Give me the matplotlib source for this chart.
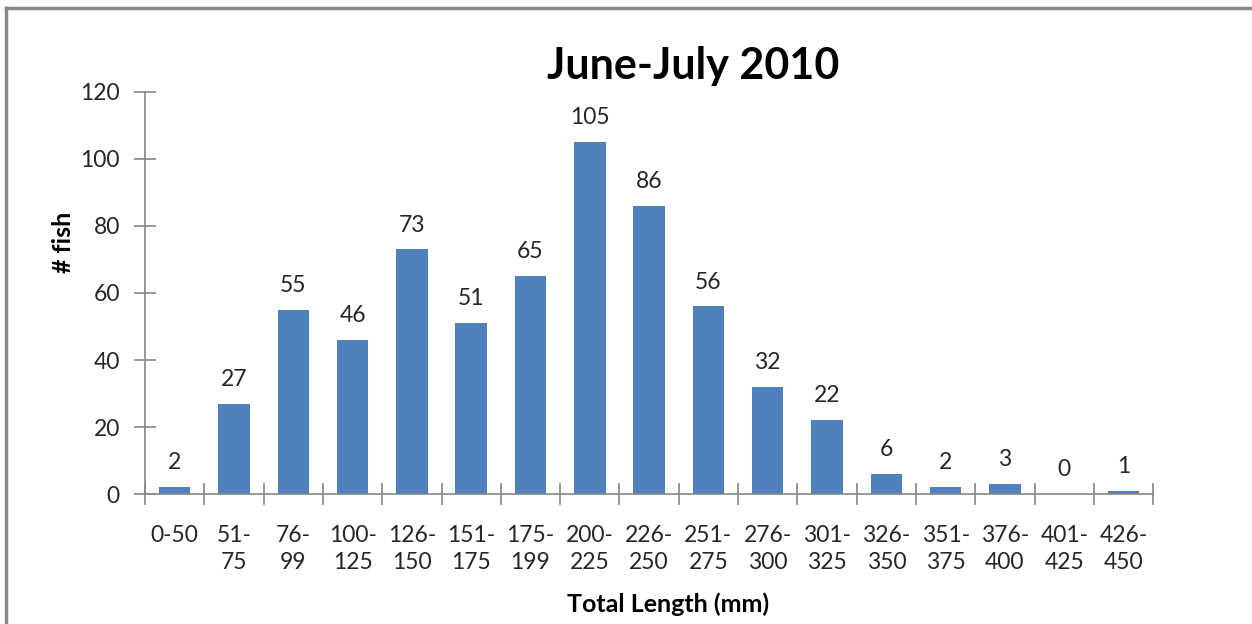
import matplotlib.pyplot as plt
from matplotlib.lines import Line2D

# length-frequency counts, June-July 2010
length_bins = ["0-50", "51-\n75", "76-\n99", "100-\n125", "126-\n150", "151-\n175",
               "175-\n199", "200-\n225", "226-\n250", "251-\n275", "276-\n300",
               "301-\n325", "326-\n350", "351-\n375", "376-\n400", "401-\n425",
               "426-\n450"]
fish_counts = [2, 27, 55, 46, 73, 51, 65, 105, 86, 56, 32, 22, 6, 2, 3, 0, 1]

plt.rcParams['font.family'] = ['Lato', 'DejaVu Sans']
axis_grey = "#868686"
text_col = "#262626"

fig = plt.figure(figsize=(12.52, 6.24), dpi=100)
ax = fig.add_axes([0.1158, 0.2083, 0.8053, 0.6443])

x = list(range(len(fish_counts)))
bars = ax.bar(x, fish_counts, width=0.53, color="#4F81BD")
for xi, v in zip(x, fish_counts):
    ax.annotate(str(v), (xi, v), xytext=(0, 10), textcoords="offset points",
                ha="center", va="bottom", fontsize=16.5, color=text_col)

ax.set_xlim(-0.5, len(fish_counts) - 0.5)
ax.set_ylim(0, 120)
ax.set_yticks(range(0, 121, 20))
ax.set_xticks(x)
ax.set_xticklabels(length_bins, fontsize=16.5, color=text_col, linespacing=1.4)
ax.set_xticks([i - 0.5 for i in range(len(fish_counts) + 1)], minor=True)
ax.tick_params(axis="x", which="major", length=0, pad=22)
ax.tick_params(axis="x", which="minor", direction="inout", length=16,
               color=axis_grey, width=1.2)
ax.tick_params(axis="y", direction="inout", length=16, color=axis_grey, width=1.2,
               labelsize=16.5, labelcolor=text_col, pad=10)

for side in ("top", "right"):
    ax.spines[side].set_visible(False)
for side in ("left", "bottom"):
    ax.spines[side].set_color(axis_grey)
    ax.spines[side].set_linewidth(1.2)

ax.set_ylabel("# fish", fontsize=18, fontweight="bold", labelpad=4, y=0.627)
ax.set_xlabel("Total Length (mm)", fontsize=18, fontweight="bold", labelpad=14, x=0.519)

fig.text(693 / 1252, 1 - 66 / 624, "June-July 2010", fontsize=31, fontweight="bold",
         ha="center", va="center")

# chart frame, only the top and left edges are in view
fig.add_artist(Line2D([6 / 1252, 6 / 1252], [0, 1 - 8 / 624], color="#888888", lw=2.5,
                      transform=fig.transFigure))
fig.add_artist(Line2D([6 / 1252, 1], [1 - 8 / 624, 1 - 8 / 624], color="#888888", lw=2.5,
                      transform=fig.transFigure))

fig.savefig("out.png", dpi=100)
